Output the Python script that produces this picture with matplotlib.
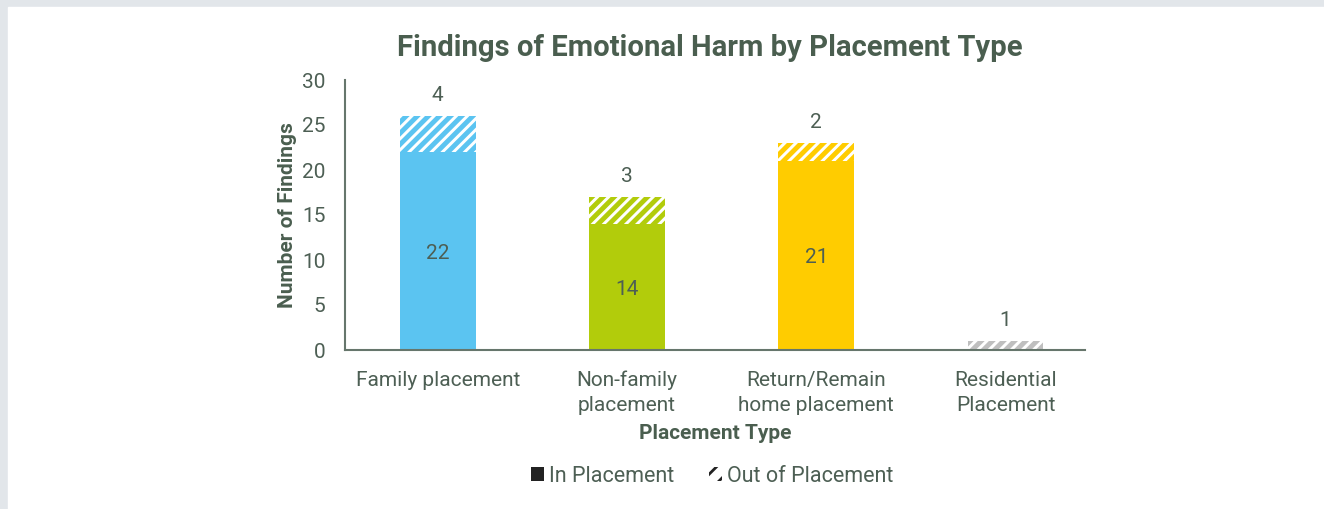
import matplotlib.pyplot as plt
from matplotlib.patches import Rectangle, Patch

plt.rcParams['font.family'] = ['Roboto', 'DejaVu Sans']
plt.rcParams['hatch.linewidth'] = 3.5

categories = ["Family placement", "Non-family\nplacement", "Return/Remain\nhome placement", "Residential\nPlacement"]
in_placement = [22, 14, 21, 0]
out_placement = [4, 3, 2, 1]
colors = ["#5bc4f1", "#b2cc0b", "#ffcc00", "#bfbfbf"]

text_col = "#4d5f54"
title_col = "#4a5e4f"
axis_col = "#66766c"

fig = plt.figure(figsize=(13.24, 5.09), dpi=100)
fig.patches.append(Rectangle((0, 0), 1, 1, transform=fig.transFigure, color="#e2e6ea", zorder=-10))
fig.patches.append(Rectangle((8 / 1324, 0), 1, 1 - 7 / 509, transform=fig.transFigure, color="white", zorder=-9))

ax = fig.add_axes([345 / 1324, 1 - 350 / 509, 740 / 1324, 270 / 509])
ax.patch.set_alpha(0)
x = list(range(len(categories)))
w = 0.40
for i in x:
    if in_placement[i] > 0:
        ax.bar(i, in_placement[i], w, color=colors[i], linewidth=0)
        ax.text(i, in_placement[i] / 2 - 0.25, str(in_placement[i]), ha="center", va="center",
                fontsize=15, color=text_col)
    ax.bar(i, out_placement[i], w, bottom=in_placement[i], facecolor="white",
           edgecolor=colors[i], hatch="///", linewidth=0)
    ax.text(i, in_placement[i] + out_placement[i] + 1.2, str(out_placement[i]), ha="center",
            va="bottom", fontsize=15, color=text_col)

ax.set_xlim(-0.49, 3.42)
ax.set_ylim(0, 30)
ax.set_yticks(range(0, 31, 5))
ax.set_xticks(x)
ax.set_xticklabels(categories, linespacing=1.4)
ax.tick_params(length=0, labelsize=15, labelcolor=text_col, pad=15)
ax.tick_params(axis="y", pad=14)
for s in ["top", "right"]:
    ax.spines[s].set_visible(False)
for s in ["left", "bottom"]:
    ax.spines[s].set_color(axis_col)
    ax.spines[s].set_linewidth(1.5)

ax.set_ylabel("Number of Findings", fontsize=15, fontweight="bold", color=title_col, labelpad=4)
ax.set_xlabel("Placement Type", fontsize=15, fontweight="bold", color=title_col, labelpad=6)
fig.text(710 / 1324, 1 - 48 / 509, "Findings of Emotional Harm by Placement Type", ha="center",
         va="center", fontsize=21.1, fontweight="bold", color=title_col)

plt.rcParams['hatch.linewidth'] = 2
handles = [Patch(facecolor="#222222", edgecolor="none"),
           Patch(facecolor="white", edgecolor="#222222", hatch="//", linewidth=0)]
fig.legend(handles, ["In Placement", "Out of Placement"], loc="center",
           bbox_to_anchor=(712 / 1324, 1 - 476 / 509), ncol=2, frameon=False,
           fontsize=15.5, labelcolor=text_col, handlelength=0.6, handleheight=0.6,
           handletextpad=0.25, columnspacing=1.6)

fig.savefig("out.png", dpi=100)
